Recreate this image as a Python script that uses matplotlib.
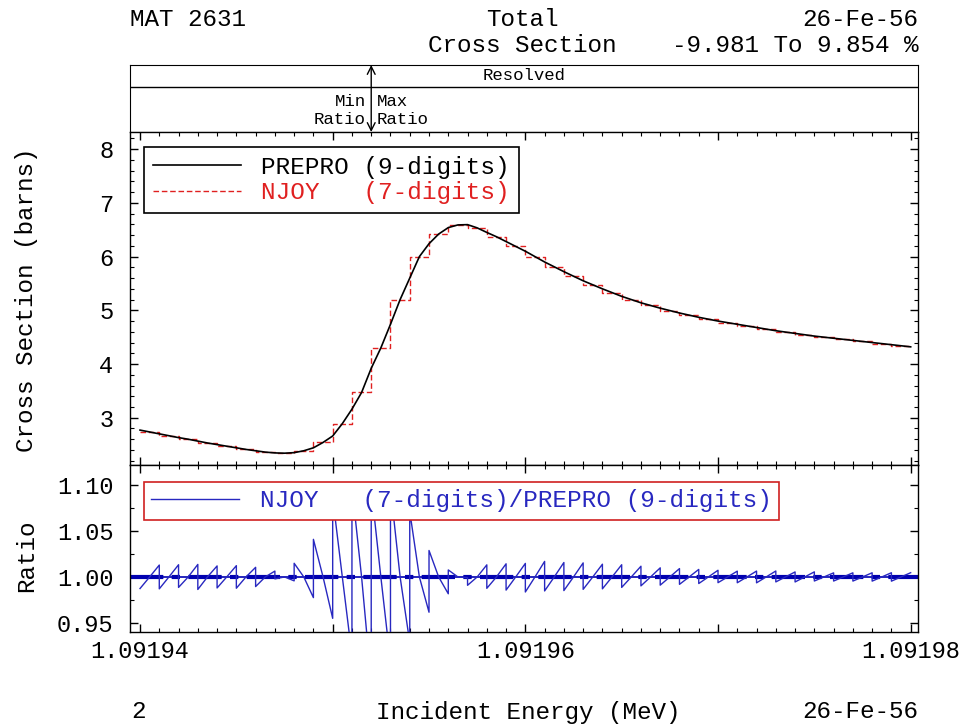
import numpy as np
import matplotlib
matplotlib.use('Agg')
import matplotlib.pyplot as plt
from matplotlib.ticker import FixedLocator, FixedFormatter, MultipleLocator

plt.rcParams['font.family'] = ['Liberation Mono', 'DejaVu Sans Mono']

# energies (MeV), half steps of the 7-digit grid
energy = [
    1.0919400, 1.0919405, 1.0919410, 1.0919415, 1.0919420, 1.0919425, 1.0919430, 1.0919435,
    1.0919440, 1.0919445, 1.0919450, 1.0919455, 1.0919460, 1.0919465, 1.0919470, 1.0919475,
    1.0919480, 1.0919485, 1.0919490, 1.0919495, 1.0919500, 1.0919505, 1.0919510, 1.0919515,
    1.0919520, 1.0919525, 1.0919530, 1.0919535, 1.0919540, 1.0919545, 1.0919550, 1.0919555,
    1.0919560, 1.0919565, 1.0919570, 1.0919575, 1.0919580, 1.0919585, 1.0919590, 1.0919595,
    1.0919600, 1.0919605, 1.0919610, 1.0919615, 1.0919620, 1.0919625, 1.0919630, 1.0919635,
    1.0919640, 1.0919645, 1.0919650, 1.0919655, 1.0919660, 1.0919665, 1.0919670, 1.0919675,
    1.0919680, 1.0919685, 1.0919690, 1.0919695, 1.0919700, 1.0919705, 1.0919710, 1.0919715,
    1.0919720, 1.0919725, 1.0919730, 1.0919735, 1.0919740, 1.0919745, 1.0919750, 1.0919755,
    1.0919760, 1.0919765, 1.0919770, 1.0919775, 1.0919780, 1.0919785, 1.0919790, 1.0919795,
    1.0919800]

# PREPRO total cross section (barns) at those energies
xs_prepro = [
    2.770, 2.735, 2.700, 2.665, 2.630, 2.600, 2.565, 2.530,
    2.500, 2.470, 2.440, 2.410, 2.385, 2.360, 2.345, 2.340,
    2.350, 2.385, 2.440, 2.540, 2.660, 2.890, 3.160, 3.470,
    3.920, 4.300, 4.740, 5.200, 5.600, 6.000, 6.240, 6.420,
    6.540, 6.590, 6.595, 6.535, 6.450, 6.370, 6.280, 6.190,
    6.100, 6.000, 5.900, 5.810, 5.720, 5.635, 5.550, 5.475,
    5.400, 5.330, 5.260, 5.200, 5.140, 5.090, 5.040, 4.995,
    4.950, 4.910, 4.870, 4.835, 4.800, 4.770, 4.740, 4.710,
    4.680, 4.650, 4.620, 4.595, 4.570, 4.545, 4.520, 4.500,
    4.480, 4.460, 4.440, 4.420, 4.400, 4.380, 4.360, 4.340,
    4.320]

x_ticks = [1.09194, 1.09195, 1.09196, 1.09197, 1.09198]
x_ticklabels = ['1.09194', '', '1.09196', '', '1.09198']
ratio_ticks = [0.95, 1.00, 1.05, 1.10]
ratio_ticklabels = ['0.95', '1.00', '1.05', '1.10']
x_maxratio = 1.091952

E = np.array(energy)
f = np.array(xs_prepro)
# NJOY keeps 7 digits: each point collapses onto the 1e-6 grid -> plateaus
njoy = f[1::2]
grid = E[::2]
njoy_y = np.append(njoy, njoy[-1])

rx = np.column_stack([E[0:-1:2], E[1::2], E[2::2]]).ravel()
ry = np.column_stack([njoy / f[0:-1:2], njoy / f[1::2], njoy / f[2::2]]).ravel()

W, H = 963, 727
fig = plt.figure(figsize=(W/100, H/100), dpi=100)
L, R = 130, 918
ax_band = fig.add_axes([L/W, 1-132/H, (R-L)/W, 67/H])
ax = fig.add_axes([L/W, 1-465/H, (R-L)/W, 333/H])
axr = fig.add_axes([L/W, 1-632/H, (R-L)/W, 167/H], sharex=ax)

xlim = (1.09194 - 0.52e-6, 1.09198 + 0.38e-6)

# header band
ax_band.set_xlim(xlim)
ax_band.set_ylim(0, 1)
ax_band.set_xticks([]); ax_band.set_yticks([])
ax_band.axhline(0.672, color='black', lw=1)
ax_band.text(0.5, 0.836, 'Resolved', transform=ax_band.transAxes,
             ha='center', va='center', fontsize=12.5)
ax_band.annotate('', xy=(x_maxratio, 1), xytext=(x_maxratio, 0),
                 arrowprops=dict(arrowstyle='<->', lw=1, color='black',
                                 shrinkA=0, shrinkB=0, mutation_scale=14))
ax_band.text(x_maxratio - 0.28e-6, 0.32, 'Min\nRatio', ha='right', va='center',
             fontsize=12.5, linespacing=1.2)
ax_band.text(x_maxratio + 0.28e-6, 0.32, 'Max\nRatio', ha='left', va='center',
             fontsize=12.5, linespacing=1.2)

# cross section panel
l2, = ax.step(grid, njoy_y, where='post', color='#e02020', lw=1,
              ls=(0, (4, 2)), label='NJOY   (7-digits)', zorder=2)
l1, = ax.plot(E, f, color='black', lw=1.2, label='PREPRO (9-digits)', zorder=3)
ax.set_xlim(xlim)
ax.set_ylim(2.12, 8.32)
ax.yaxis.set_major_locator(MultipleLocator(1))
ax.yaxis.set_minor_locator(MultipleLocator(0.2))
leg = ax.legend([l1, l2], ['PREPRO (9-digits)', 'NJOY   (7-digits)'],
                loc='upper left', bbox_to_anchor=(0.0178, 0.955),
                borderaxespad=0, fontsize=17.6, fancybox=False, framealpha=1,
                edgecolor='black', handlelength=3.6, handletextpad=0.85,
                borderpad=0.35, labelspacing=0.12)
leg.get_frame().set_linewidth(1.2)
leg.get_texts()[1].set_color('#e02020')
plt.setp(ax.get_xticklabels(), visible=False)

# ratio panel
axr.axhline(1.0, color='#0000b0', lw=1.2, zorder=2)
axr.axhline(1.0, color='#0000b0', lw=3, ls=(0, (8, 2, 2, 2)), zorder=2)
lr, = axr.plot(rx, ry, color='#2828c0', lw=1, zorder=3)
axr.set_ylim(0.94, 1.122)
axr.yaxis.set_major_locator(FixedLocator(ratio_ticks))
axr.yaxis.set_major_formatter(FixedFormatter(ratio_ticklabels))
axr.yaxis.set_minor_locator(MultipleLocator(0.025))
axr.xaxis.set_major_locator(FixedLocator(x_ticks))
axr.xaxis.set_major_formatter(FixedFormatter(x_ticklabels))
axr.xaxis.set_minor_locator(MultipleLocator(1e-6))
legr = axr.legend([lr], ['NJOY   (7-digits)/PREPRO (9-digits)'],
                  loc='upper left', bbox_to_anchor=(0.0178, 0.898),
                  borderaxespad=0, fontsize=17.6, fancybox=False, framealpha=1,
                  edgecolor='#d02020', handlelength=3.6, handletextpad=0.85,
                  borderpad=0.3)
legr.get_frame().set_linewidth(1.2)
legr.get_texts()[0].set_color('#2828c0')
legr.set_zorder(10)

for a in (ax, axr):
    a.tick_params(which='both', direction='in', top=True, right=True,
                  labelsize=17)
    a.tick_params(which='major', length=6, width=1)
    a.tick_params(which='minor', length=3, width=0.8)
    a.tick_params(axis='y', pad=12)
    a.tick_params(axis='x', pad=6)
    for s in a.spines.values():
        s.set_linewidth(1)

# outer texts
def ftext(x, y, s, **kw):
    fig.text(x/W, 1-y/H, s, va='center', fontsize=17.5, **kw)

ftext(130, 20, 'MAT 2631', ha='left')
ftext(522, 20, 'Total', ha='center')
ftext(918, 20, '26-Fe-56', ha='right')
ftext(522, 46, 'Cross Section', ha='center')
ftext(918, 46, '-9.981 To 9.854 %', ha='right')
ftext(131, 712, '2', ha='left')
ftext(528, 712, 'Incident Energy (MeV)', ha='center')
ftext(918, 712, '26-Fe-56', ha='right')
ftext(27, 300, 'Cross Section (barns)', ha='center', rotation=90)
ftext(27, 556, 'Ratio', ha='center', rotation=90)

fig.savefig('out.png', dpi=100)
